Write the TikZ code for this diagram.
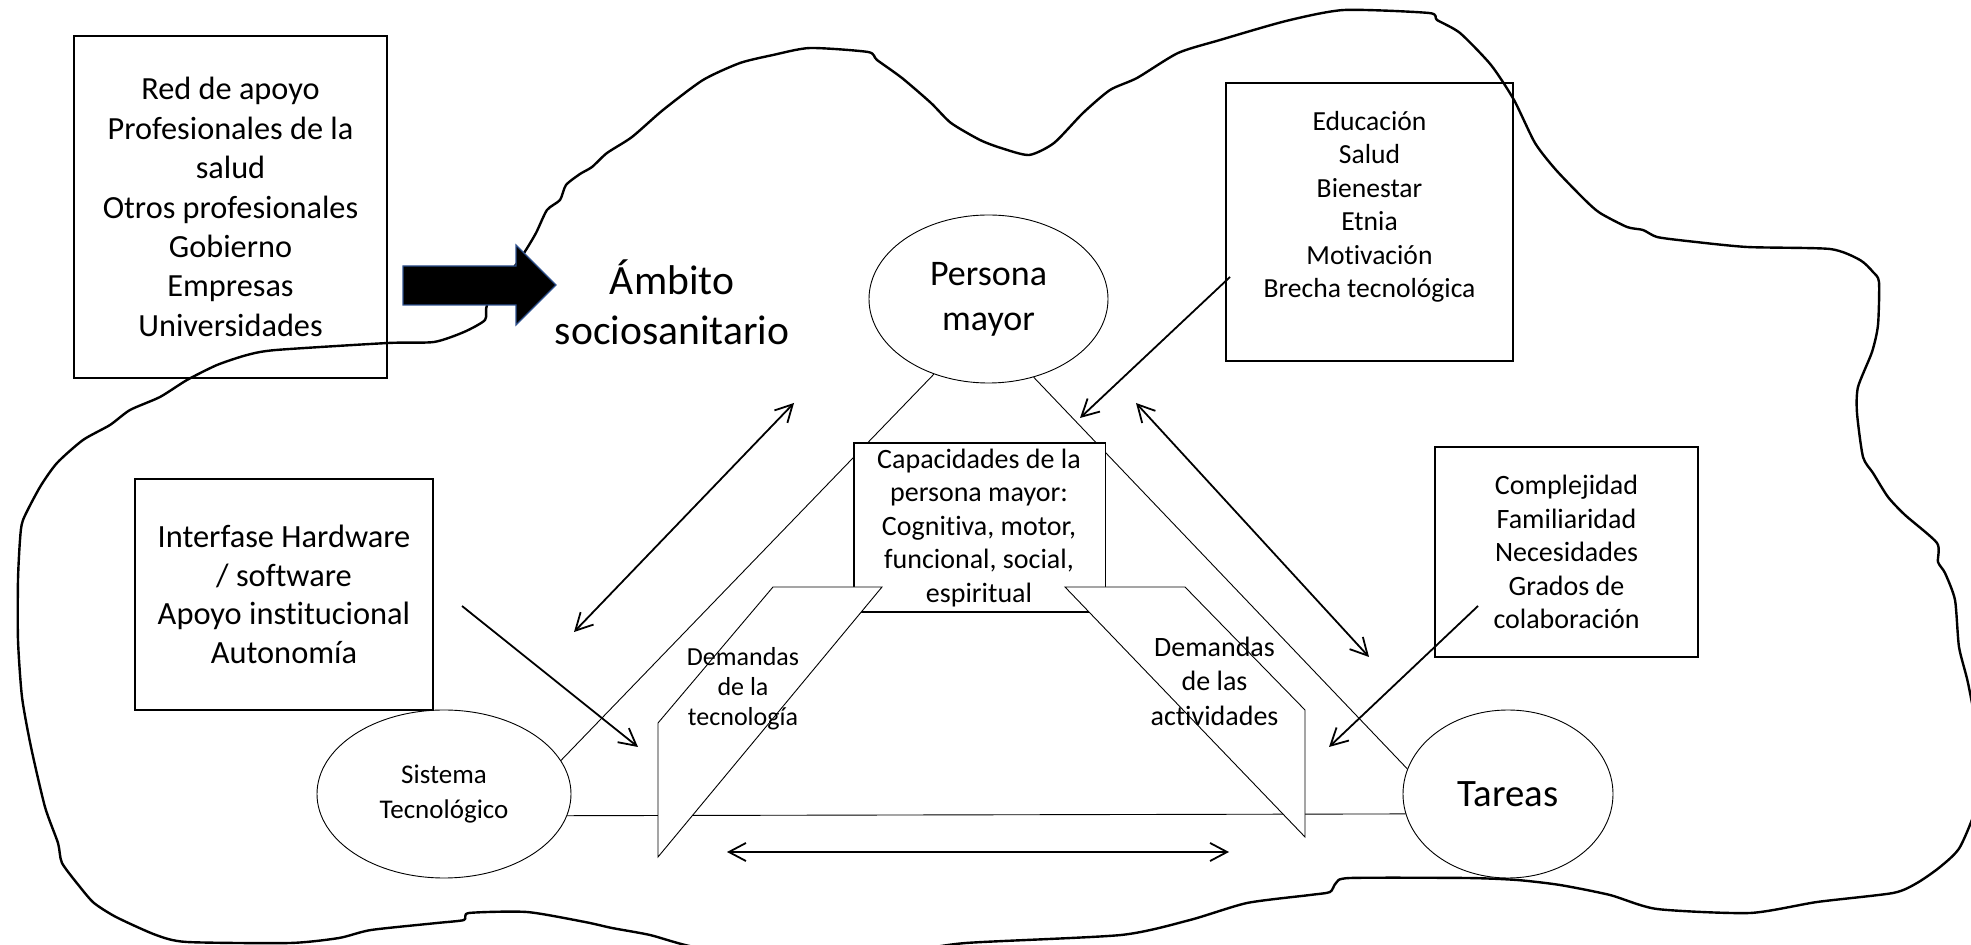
\documentclass[tikz,border=0pt]{standalone}
\usepackage{fontspec}
\setmainfont{Carlito}[Ligatures={TeX,NoCommon}]
\usetikzlibrary{arrows.meta,shapes.geometric}
\definecolor{arrowblue}{HTML}{2F528F}
\begin{document}
\begin{tikzpicture}[x=0.5pt,y=-0.5pt,
  box/.style={draw, line width=0.6pt, inner sep=0pt, align=center},
  oval/.style={draw, ellipse, line width=0.45pt, inner sep=0pt, align=center, fill=white},
  thinline/.style={line width=0.45pt},
  conn/.style={line width=0.9pt, -{Straight Barb[length=8.5pt,width=9pt]}},
  dconn/.style={line width=0.9pt, {Straight Barb[length=8.5pt,width=9pt]}-{Straight Barb[length=8.5pt,width=9pt]}},
  blob/.style={line width=1.2pt, line join=round},
  txt/.style={align=center, inner sep=0pt}
]
\useasboundingbox (0,0) rectangle (1971,945);
\clip (0,0) rectangle (1971,945);

% outline of the socio-sanitary domain
\draw[blob] plot[smooth cycle, tension=0.4] coordinates {
(487,305) (505,280) (524,253) (536,233) (547,210) (560,200) (566,185) (580,174) (592,167) (607,153) (632,137) (663,110) (703,80) (740,63) (773,55) (810,48) (868,52) (877,60) (902,78) (931,103) (951,123) (980,140) (1001,148) (1029,155) (1054,143) (1083,113) (1110,90) (1137,78) (1178,53) (1220,40) (1286,21) (1344,10) (1429,13) (1437,20) (1460,33) (1491,65) (1514,100) (1535,143) (1556,170) (1585,200) (1600,213) (1627,227) (1643,230) (1657,237) (1687,241) (1747,247) (1830,249) (1860,260) (1873,272) (1879,282) (1878,325) (1872,352) (1858,387) (1857,413) (1863,457) (1873,473) (1888,497) (1905,515) (1937,543) (1938,562) (1945,573) (1955,600) (1959,647) (1968,683) (1978,740) (1978,800) (1960,847) (1940,867) (1917,883) (1893,893) (1817,902) (1750,913) (1657,909) (1610,895) (1560,885) (1517,880) (1467,878) (1350,878) (1336,883) (1330,892) (1310,895) (1247,903) (1190,920) (1121,935) (966,943) (900,952) (800,955) (700,948) (650,935) (612,928) (585,922) (527,912) (469,913) (464,920) (437,923) (371,930) (339,938) (290,943) (187,942) (156,935) (116,917) (94,903) (80,887) (62,863) (58,843) (45,807) (31,747) (22,697) (18,640) (18,580) (20,540) (23,520) (40,487) (57,463) (83,440) (110,425) (130,410) (160,397) (187,380) (217,365) (247,355) (276,350) (388,343) (434,342) (464,332) (485,320)};

% ellipses
\node[oval, minimum width=119.5pt, minimum height=84pt, font=\fontsize{18}{22.5}\selectfont] (pm) at (988.5,299) {Persona\\mayor};
\node[oval, minimum width=127pt, minimum height=84pt, font=\fontsize{13.5}{17.5}\selectfont] (st) at (444,794) {Sistema\\Tecnológico};
\node[oval, minimum width=105pt, minimum height=84pt, font=\fontsize{19.4}{23}\selectfont] (ta) at (1508,794) {Tareas};

% triangle
\draw[thinline] (pm.234) -- (st.16);
\draw[thinline] (pm.300) -- (ta.166);
\draw[thinline] (st.350) -- (ta.191.5);

% capacities box
\node[box, fill=white, minimum width=125.75pt, minimum height=84.5pt] (cap) at (979.75,527.5) {};

% demand planes
\draw[thinline, fill=white] (658,723) -- (773,587) -- (882,587) -- (658,857) -- cycle;
\draw[thinline, fill=white] (1065,587) -- (1185,587) -- (1305,710) -- (1305,837) -- cycle;

\node[txt, font=\fontsize{14}{16.75}\selectfont] (captxt) at (979,528) {Capacidades de la\\persona mayor:\\Cognitiva, motor,\\funcional, social,\\espiritual};
\node[txt, font=\fontsize{13}{15}\selectfont] (dt) at (743,689) {Demandas\\de la\\tecnología};
\node[txt, font=\fontsize{14}{17.25}\selectfont] (da) at (1214.5,681) {Demandas\\de las\\actividades};

% boxes
\node[box, minimum width=156.5pt, minimum height=171pt, font=\fontsize{16.15}{19.7}\selectfont] (red) at (230.5,207) {Red de apoyo\\Profesionales de la\\salud\\Otros profesionales\\Gobierno\\Empresas\\Universidades};
\node[box, minimum width=143.5pt, minimum height=139pt] (edu) at (1369.5,222) {};
\node[txt, font=\fontsize{13.8}{16.75}\selectfont] (edutxt) at (1369.5,207) {Educación\\Salud\\Bienestar\\Etnia\\Motivación\\Brecha tecnológica};
\node[box, minimum width=149pt, minimum height=115.5pt, font=\fontsize{16.2}{19.25}\selectfont] (int) at (284,594.5) {Interfase Hardware\\/ software\\Apoyo institucional\\Autonomía};
\node[box, minimum width=131.5pt, minimum height=105pt, font=\fontsize{14}{16.75}\selectfont] (com) at (1566.5,552) {Complejidad\\Familiaridad\\Necesidades\\Grados de\\colaboración};

\node[txt, font=\fontsize{20.8}{25}\selectfont] (amb) at (672,302) {Ámbito\\sociosanitario};

% block arrow
\filldraw[fill=black, draw=arrowblue, line width=0.6pt] (403,266) -- (516,266) -- (516,245) -- (556,285) -- (516,325) -- (516,305) -- (403,305) -- cycle;

% arrows
\coordinate (a1s) at (574,632); \coordinate (a1e) at (794,403);
\coordinate (a2s) at (1230,277); \coordinate (a2e) at (1080,418);
\coordinate (a3s) at (1136,403); \coordinate (a3e) at (1369,657);
\coordinate (a4s) at (462,606); \coordinate (a4e) at (638,747);
\coordinate (a5s) at (1478,606); \coordinate (a5e) at (1329,747);
\coordinate (a6s) at (727,852); \coordinate (a6e) at (1229,852);
\draw[dconn] (a1s) -- (a1e);
\draw[conn] (a2s) -- (a2e);
\draw[dconn] (a3s) -- (a3e);
\draw[conn] (a4s) -- (a4e);
\draw[conn] (a5s) -- (a5e);
\draw[dconn] (a6s) -- (a6e);
\end{tikzpicture}
\end{document}
